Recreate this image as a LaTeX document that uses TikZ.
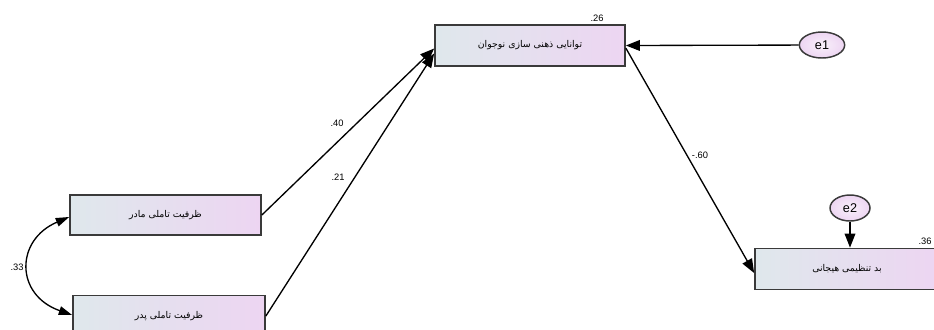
\documentclass[tikz,border=0pt]{standalone}
\usepackage{fontspec}
\setmainfont{Liberation Sans}
\newfontfamily\arabicfont[Script=Arabic]{DejaVu Sans}
\TeXXeTstate=1
\usetikzlibrary{arrows.meta,shapes.geometric,calc}
\definecolor{boxleft}{HTML}{DFE8EC}
\definecolor{boxright}{HTML}{EDD5F2}
\definecolor{bordercol}{HTML}{3A3A3A}
\tikzset{
  var/.style={draw=bordercol,line width=1.3pt,rectangle,inner sep=0pt,
    left color=boxleft,right color=boxright,
    font=\arabicfont\fontsize{7}{8}\selectfont},
  err/.style={draw=bordercol,line width=1.1pt,ellipse,inner sep=0pt,
    inner color=boxright!35,outer color=boxright,
    font=\fontsize{9.5}{10}\selectfont},
  path/.style={line width=1pt,-{Triangle[length=10.5pt,width=8pt]}},
  cov/.style={line width=1pt,{Triangle[length=10pt,width=6.5pt]}-{Triangle[length=10pt,width=6.5pt]}},
  lab/.style={font=\fontsize{7}{8}\selectfont,inner sep=0pt}
}
\begin{document}
\begin{tikzpicture}[x=0.75pt,y=-0.75pt]
\useasboundingbox (0,0) rectangle (934,329);
\clip (0,0) rectangle (934,329);
\node[var,minimum width=142.5pt,minimum height=30.75pt] (top) at (530,45.5) {\beginR توانایی ذهنی سازی نوجوان\endR};
\node[var,minimum width=143.25pt,minimum height=30pt] (mother) at (165.5,215) {\beginR ظرفیت تاملی مادر\endR};
\node[var,minimum width=144pt,minimum height=30.75pt] (father) at (169,316) {\beginR ظرفیت تاملی پدر\endR};
\node[var,minimum width=138pt,minimum height=30.75pt] (dys) at (847,269) {\beginR بد تنظیمی هیجانی\endR};
\node[err,minimum width=34pt,minimum height=19.5pt] (e1) at (822,45) {e1};
\node[err,minimum width=30pt,minimum height=19.5pt] (e2) at (850,208) {e2};
\coordinate (topin1) at ($(top.west)+(0,-2.25pt)$);
\coordinate (topin2) at ($(top.west)+(0,-6pt)$);
\coordinate (topout) at ($(top.east)+(0,-2pt)$);
\coordinate (dysin) at ($(dys.west)+(0,-3pt)$);
\coordinate (mothercov) at ($(mother.west)+(0,-1.5pt)$);
\coordinate (fathercov) at ($(father.west)+(0,0.75pt)$);
\draw[path] (mother.east) -- (topin1);
\draw[path] (father.east) -- (topin2);
\draw[path] (e1) -- (top.east);
\draw[path] (topout) -- (dysin);
\draw[path] (e2) -- (dys.north -| e2);
\draw[cov] (mothercov) .. controls (15,240) and (15,295) .. (fathercov);
\node[lab] (l26) at (597,18) {.26};
\node[lab] (l40) at (337,123) {.40};
\node[lab] (l21) at (338,177) {.21};
\node[lab] (l60) at (700,155) {-.60};
\node[lab] (l33) at (17,267) {.33};
\node[lab] (l36) at (925,241) {.36};
\end{tikzpicture}
\end{document}
